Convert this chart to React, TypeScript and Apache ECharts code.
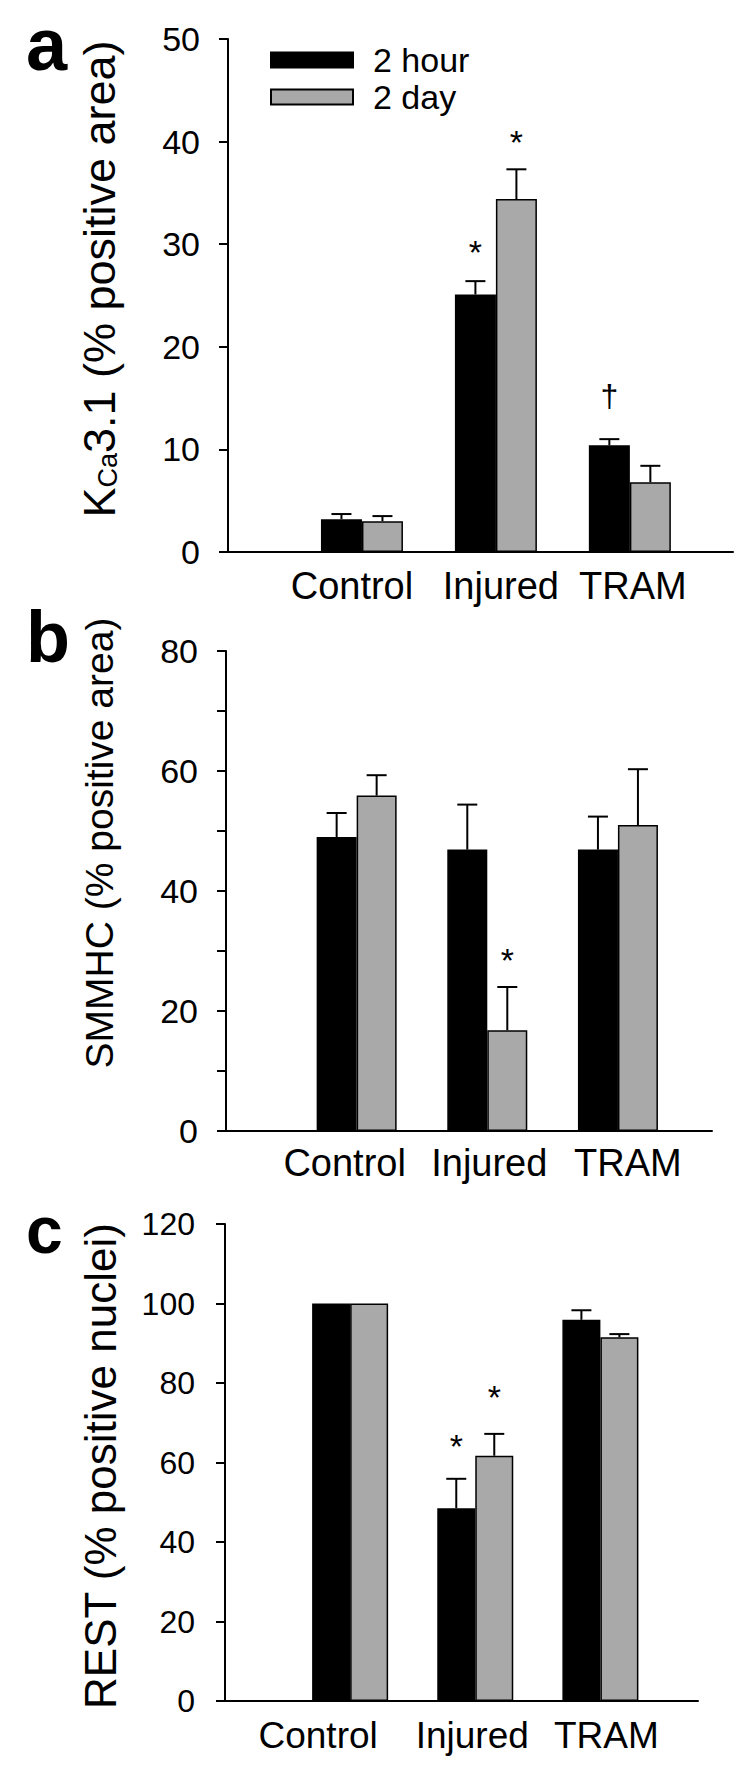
import React, { useEffect, useRef } from 'react';
import * as echarts from 'echarts';

const FONT = '"Liberation Sans", Arial, Helvetica, sans-serif';

const categories = ['Control', 'Injured', 'TRAM'];
const seriesNames = ['2 hour', '2 day'];

// Panel a: KCa3.1 (% positive area)
const aHour = [3.2, 25.1, 10.4];
const aHourErr = [0.5, 1.3, 0.6];
const aDay = [3.0, 34.4, 6.8];
const aDayErr = [0.5, 2.9, 1.6];
// [category position, series (0 = 2 hour, 1 = 2 day), value, mark]
const aMarks: [number, number, number, string][] = [
  [2, 0, 30.0, '*'],
  [2, 1, 40.7, '*'],
  [3, 0, 15.0, '†'],
];
const aYTicks = [0, 10, 20, 30, 40, 50];
const aYLabels = [0, 10, 20, 30, 40, 50];

// Panel b: SMMHC (% positive area)
const bHour = [49.0, 46.9, 46.9];
const bHourErr = [4.0, 7.5, 5.5];
const bDay = [55.9, 16.8, 51.0];
const bDayErr = [3.4, 7.2, 9.3];
const bMarks: [number, number, number, string][] = [[2, 1, 29.9, '*']];
const bYTicks = [0, 10, 20, 30, 40, 50, 60, 70, 80];
const bYLabels = [0, 20, 40, 60, 80];

// Panel c: REST (% positive nuclei)
const cHour = [100, 48.5, 95.9];
const cHourErr = [0, 7.4, 2.4];
const cDay = [100, 61.7, 91.5];
const cDayErr = [0, 5.5, 0.8];
const cMarks: [number, number, number, string][] = [
  [2, 0, 66.2, '*'],
  [2, 1, 78.5, '*'],
];
const cYTicks = [0, 20, 40, 60, 80, 100, 120];
const cYLabels = [0, 20, 40, 60, 80, 100, 120];

const GRAY = '#a9a9a9';

const panels = [
  {
    hour: aHour, hourErr: aHourErr, day: aDay, dayErr: aDayErr, marks: aMarks,
    ticks: aYTicks, labels: aYLabels,
    grid: { left: 228, top: 39, width: 505, height: 513 },
    xMax: 3.77, barW: 41, tickFont: 34, catFont: 38, catMargin: 15, labelMargin: 28,
    catShift: [-10, 5, 3],
  },
  {
    hour: bHour, hourErr: bHourErr, day: bDay, dayErr: bDayErr, marks: bMarks,
    ticks: bYTicks, labels: bYLabels,
    grid: { left: 226, top: 651, width: 486, height: 480 },
    xMax: 3.72, barW: 40, tickFont: 34, catFont: 38, catMargin: 13, labelMargin: 28,
    catShift: [-12, 2, 10],
  },
  {
    hour: cHour, hourErr: cHourErr, day: cDay, dayErr: cDayErr, marks: cMarks,
    ticks: cYTicks, labels: cYLabels,
    grid: { left: 225, top: 1224, width: 473, height: 477 },
    xMax: 3.78, barW: 38, tickFont: 32, catFont: 37, catMargin: 16, labelMargin: 30,
    catShift: [-32, -3, 6],
  },
];

function buildOption() {
  const grid: any[] = [];
  const xAxis: any[] = [];
  const yAxis: any[] = [];
  const series: any[] = [];

  panels.forEach((p, i) => {
    grid.push({ ...p.grid });
    const rich: any = {};
    p.catShift.forEach((s, k) => {
      rich['c' + k] = {
        fontSize: p.catFont,
        fontFamily: FONT,
        color: '#000',
        padding: s >= 0 ? [0, 0, 0, 2 * s] : [0, -2 * s, 0, 0],
      };
    });
    xAxis.push({
      type: 'value',
      gridIndex: i,
      min: 0,
      max: p.xMax,
      interval: 1,
      axisLine: { show: true, onZero: false, lineStyle: { color: '#000', width: 2 } },
      axisTick: { show: false },
      splitLine: { show: false },
      axisLabel: {
        color: '#000',
        fontSize: p.catFont,
        fontFamily: FONT,
        margin: p.catMargin,
        rich,
        formatter: (v: number) =>
          Number.isInteger(v) && v >= 1 && v <= categories.length
            ? '{c' + (v - 1) + '|' + categories[v - 1] + '}'
            : '',
      },
    });
    yAxis.push({
      type: 'value',
      gridIndex: i,
      min: p.ticks[0],
      max: p.ticks[p.ticks.length - 1],
      interval: p.ticks[1] - p.ticks[0],
      axisLine: { show: true, lineStyle: { color: '#000', width: 2 } },
      axisTick: { show: true, length: 9, lineStyle: { color: '#000', width: 2 } },
      splitLine: { show: false },
      axisLabel: {
        color: '#000',
        fontSize: p.tickFont,
        fontFamily: FONT,
        margin: p.labelMargin,
        formatter: (v: number) => (p.labels.indexOf(v) >= 0 ? String(v) : ''),
      },
    });

    const groups = [
      { name: seriesNames[0], vals: p.hour, errs: p.hourErr, color: '#000', side: -1 },
      { name: seriesNames[1], vals: p.day, errs: p.dayErr, color: GRAY, side: 1 },
    ];
    groups.forEach((g) => {
      series.push({
        type: 'bar',
        name: g.name,
        xAxisIndex: i,
        yAxisIndex: i,
        barWidth: p.barW,
        barGap: '0%',
        data: g.vals.map((v, k) => [k + 1, v]),
        itemStyle: { color: g.color, borderColor: '#000', borderWidth: 1.5 },
        z: 2,
      });
    });

    const errData: number[][] = [];
    groups.forEach((g) => {
      g.vals.forEach((v, k) => {
        if (g.errs[k] > 0) errData.push([k + 1, v, g.errs[k], g.side]);
      });
    });
    const barW = p.barW;
    series.push({
      type: 'custom',
      name: 'err' + i,
      xAxisIndex: i,
      yAxisIndex: i,
      z: 3,
      data: errData,
      renderItem: (params: any, api: any) => {
        const x = api.value(0);
        const y = api.value(1);
        const e = api.value(2);
        const side = api.value(3);
        const p0 = api.coord([x, y]);
        const p1 = api.coord([x, y + e]);
        const cx = p0[0] + (side * barW) / 2;
        return {
          type: 'group',
          children: [
            { type: 'line', shape: { x1: cx, y1: p0[1], x2: cx, y2: p1[1] }, style: { stroke: '#000', lineWidth: 2 } },
            { type: 'line', shape: { x1: cx - 10, y1: p1[1], x2: cx + 10, y2: p1[1] }, style: { stroke: '#000', lineWidth: 2 } },
          ],
        };
      },
    });

    const marks = p.marks;
    series.push({
      type: 'custom',
      name: 'marks' + i,
      xAxisIndex: i,
      yAxisIndex: i,
      z: 4,
      data: marks.map((m, j) => [m[0], m[2], m[1] === 0 ? -1 : 1, j]),
      renderItem: (params: any, api: any) => {
        const mk = marks[api.value(3)];
        const pt = api.coord([api.value(0), api.value(1)]);
        const cx = pt[0] + (api.value(2) * barW) / 2;
        const star = mk[3] === '*';
        return {
          type: 'text',
          x: cx,
          y: pt[1] + (star ? 8 : -2),
          style: {
            text: mk[3],
            fontSize: star ? 34 : 32,
            fontFamily: FONT,
            fill: '#000',
            align: 'center',
            verticalAlign: 'middle',
          },
        };
      },
    });
  });

  const txt = (text: string, x: number, y: number, fontSize: number, extra: any = {}) => ({
    type: 'text',
    x,
    y,
    style: { text, fontSize, fontFamily: FONT, fill: '#000', align: 'left', verticalAlign: 'middle', ...extra },
  });

  const graphic: any[] = [
    // panel letters
    txt('a', 26, 44, 74, { fontWeight: 'bold' }),
    txt('b', 26, 637, 72, { fontWeight: 'bold' }),
    txt('c', 26, 1230, 66, { fontWeight: 'bold' }),
    // y axis title a (with subscript)
    {
      type: 'group',
      x: 99,
      y: 279,
      rotation: Math.PI / 2,
      children: [
        txt('K', -238.6, 0, 45),
        txt('Ca', -208.6, 9.2, 27),
        txt('3.1 (% positive area)', -174.1, 0, 45),
      ],
    },
    {
      type: 'group',
      x: 99,
      y: 843,
      rotation: Math.PI / 2,
      children: [txt('SMMHC (% positive area)', 0, 0, 39, { align: 'center' })],
    },
    {
      type: 'group',
      x: 100,
      y: 1466,
      rotation: Math.PI / 2,
      children: [txt('REST (% positive nuclei)', 0, 0, 44, { align: 'center' })],
    },
  ];

  return {
    animation: false,
    backgroundColor: '#fff',
    textStyle: { fontFamily: FONT },
    legend: {
      data: seriesNames,
      orient: 'vertical',
      left: 270,
      top: 43,
      padding: 0,
      itemWidth: 82,
      itemHeight: 15,
      itemGap: 3,
      icon: 'rect',
      selectedMode: false,
      textStyle: { fontSize: 34, color: '#000', fontFamily: FONT, padding: [0, 0, 0, 15] },
    },
    grid,
    xAxis,
    yAxis,
    series,
    graphic,
  };
}

export default function App() {
  const ref = useRef<HTMLDivElement>(null);
  useEffect(() => {
    if (!ref.current) return;
    const chart = echarts.init(ref.current, undefined, { renderer: 'svg' });
    chart.setOption(buildOption() as any);
    return () => chart.dispose();
  }, []);
  return (
    <div
      ref={ref}
      style={{ position: 'absolute', left: 0, top: 0, width: 750, height: 1770, background: '#fff' }}
    />
  );
}
